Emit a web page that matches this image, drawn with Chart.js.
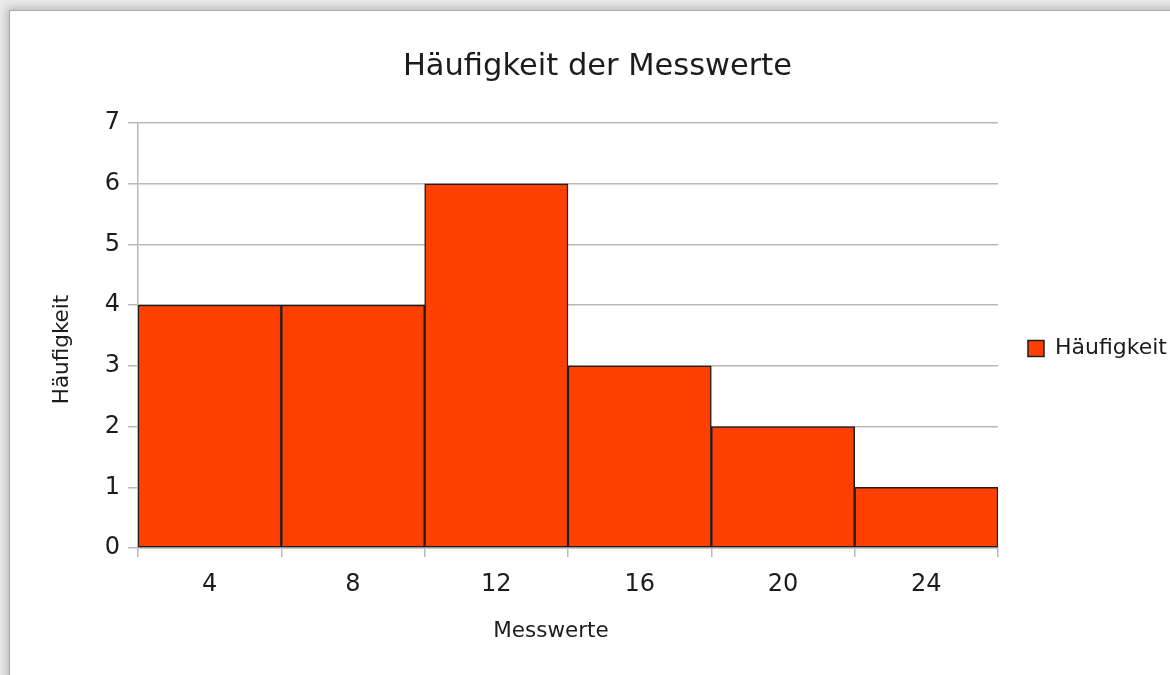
<!DOCTYPE html>
<html>
<head>
<meta charset="utf-8">
<script src="https://cdn.jsdelivr.net/npm/chart.js@4.4.1/dist/chart.umd.min.js"></script>
<style>
  html, body { margin: 0; padding: 0; }
  body { width: 1170px; height: 675px; background: #e9e9e9; position: relative; overflow: hidden; }
  #panel {
    position: absolute; left: 9px; top: 10px; width: 1180px; height: 690px;
    background: #ffffff; border-left: 1px solid #a9a9a9; border-top: 1px solid #a9a9a9;
    box-shadow: -2px -2px 8px rgba(0,0,0,0.22);
  }
  #wrap { position: absolute; left: 0; top: 0; width: 1195px; height: 675px; }
</style>
</head>
<body>
<div id="panel"></div>
<div id="wrap"><canvas id="chart"></canvas></div>
<script>
// Histogram data: measurement classes and how often each occurred
const categories = ['4', '8', '12', '16', '20', '24'];
const frequencies = [4, 4, 6, 3, 2, 1];
const yTicks = [0, 1, 2, 3, 4, 5, 6, 7];

const chartTitle = 'Häufigkeit der Messwerte';
const seriesName = 'Häufigkeit';
const xAxisTitle = 'Messwerte';
const yAxisTitle = 'Häufigkeit';

const FONT = "'DejaVu Sans', 'Liberation Sans', Arial, sans-serif";
const GRID = '#b9b9b9';
const TEXT = '#1c1c1c';

// Axis captions sit a little off the plot centre, as in the office-suite layout
const axisCaptions = {
  id: 'axisCaptions',
  afterLayout(chart) {
    // nudge the legend entry down so it lines up with the 3-gridline area
    if (chart.legend) chart.legend.top += 22;
    // centre the main heading over the whole page panel
    if (chart.titleBlock) chart.titleBlock.left += 18;
  },
  afterDraw(chart) {
    const { ctx, chartArea: a } = chart;
    ctx.save();
    ctx.fillStyle = TEXT;
    ctx.font = `21.5px ${FONT}`;
    ctx.textAlign = 'center';
    ctx.textBaseline = 'middle';
    ctx.fillText(xAxisTitle, (a.left + a.right) / 2 - 17, 631);
    ctx.translate(62, (a.top + a.bottom) / 2 + 14);
    ctx.rotate(-Math.PI / 2);
    ctx.fillText(yAxisTitle, 0, 0);
    ctx.restore();
  }
};

const chart = new Chart(document.getElementById('chart'), {
  type: 'bar',
  data: {
    labels: categories,
    datasets: [{
      label: seriesName,
      data: frequencies,
      backgroundColor: '#ff4000',
      borderColor: '#1e1e1e',
      borderWidth: 1.5,
      borderSkipped: false,
      barPercentage: 1.0,
      categoryPercentage: 1.0
    }]
  },
  options: {
    responsive: true,
    maintainAspectRatio: false,
    animation: false,
    devicePixelRatio: 1,
    layout: { padding: { left: 0, right: 18, top: 0, bottom: 0 } },
    plugins: {
      title: {
        display: true,
        text: chartTitle,
        color: TEXT,
        font: { family: FONT, size: 30.5, weight: 'normal' },
        padding: { top: 49, bottom: 37.4 }
      },
      legend: {
        position: 'right',
        align: 'center',
        labels: {
          color: TEXT,
          font: { family: FONT, size: 22 },
          boxWidth: 16,
          boxHeight: 16,
          padding: 30
        }
      },
      tooltip: { enabled: false }
    },
    scales: {
      x: {
        offset: true,
        border: { display: true, color: GRID, width: 1.5 },
        grid: {
          offset: true,
          drawOnChartArea: true,
          drawTicks: true,
          tickLength: 9,
          lineWidth: 1.5,
          tickColor: GRID,
          color: (ctx) => (ctx.index === categories.length ? GRID : 'rgba(0,0,0,0)')
        },
        ticks: {
          color: TEXT,
          font: { family: FONT, size: 24 },
          padding: 13,
          maxRotation: 0
        },
        title: { display: false },
        afterFit: (s) => { s.height = 127; }
      },
      y: {
        min: 0,
        max: 7,
        border: { display: true, color: GRID, width: 1.5 },
        grid: {
          color: GRID,
          lineWidth: 1.5,
          tickLength: 10,
          tickColor: GRID
        },
        afterBuildTicks: (s) => { s.ticks = yTicks.map(v => ({ value: v })); },
        ticks: {
          color: TEXT,
          font: { family: FONT, size: 24 },
          padding: 8
        },
        title: { display: false },
        afterFit: (s) => { s.width = 138; }
      }
    }
  },
  plugins: [axisCaptions]
});
</script>
</body>
</html>
